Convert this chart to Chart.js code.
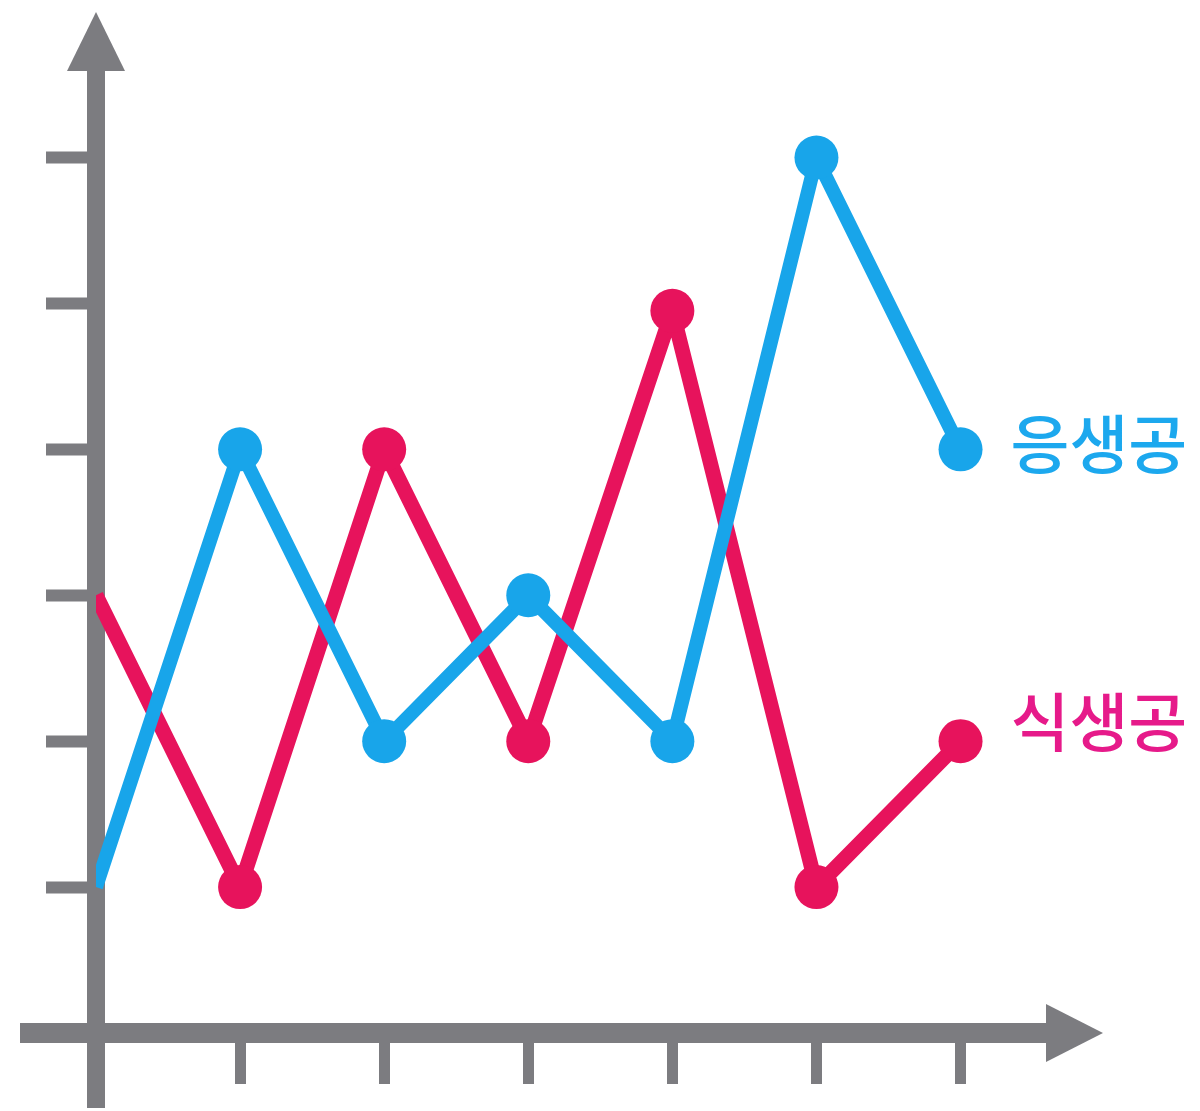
<!DOCTYPE html>
<html>
<head>
<meta charset="utf-8">
<script src="https://cdn.jsdelivr.net/npm/chart.js@4"></script>
<style>
  html, body { margin: 0; padding: 0; background: #fff; }
  #wrap { width: 1200px; height: 1111px; }
</style>
</head>
<body>
<div id="wrap"><canvas id="lineChart"></canvas></div>
<script>
// data
const xSteps = [0, 1, 2, 3, 4, 5, 6];
const eungSaeng = [1, 4, 2, 3, 2, 6, 4];     // 응생공 (blue)
const sikSaeng = [3, 1, 4, 2, 4.95, 1, 2];   // 식생공 (pink)
const seriesNames = ['응생공', '식생공'];
const xTickMarks = [1, 2, 3, 4, 5, 6];
const yTickMarks = [1, 2, 3, 4, 5, 6];
const AXIS_END = 6.6;

const AXIS = '#7c7c80';
const BLUE = '#18a5ea';
const PINK = '#e7135c';

function toPoints(values) {
  return values.map((v, i) => ({ x: xSteps[i], y: v }));
}

// axis overhang, arrow heads and series labels
const decorations = {
  id: 'decorations',
  afterDraw(chart) {
    const c = chart.ctx;
    const xs = chart.scales.x, ys = chart.scales.y;
    const ax = xs.getPixelForValue(0);
    const ay = ys.getPixelForValue(0);
    c.save();
    c.fillStyle = AXIS;
    // y axis runs below the x axis, x axis runs left of the y axis
    c.fillRect(ax - 9, ay, 18, 75);
    c.fillRect(20, ay - 10, ax - 20, 20);
    // arrow heads sit on the end of each axis line
    const top = ys.getPixelForValue(AXIS_END);
    c.beginPath();
    c.moveTo(ax, top - 58);
    c.lineTo(ax - 29, top + 1);
    c.lineTo(ax + 29, top + 1);
    c.closePath();
    c.fill();
    const right = xs.getPixelForValue(AXIS_END);
    c.beginPath();
    c.moveTo(right + 56, ay);
    c.lineTo(right - 1, ay - 29);
    c.lineTo(right - 1, ay + 29);
    c.closePath();
    c.fill();
    // series labels next to the last point
    c.font = '500 64px "Noto Sans CJK KR"';
    c.textBaseline = 'middle';
    const colors = ['#1ca8ee', '#e61a8a'];
    const lift = [6, 19];
    chart.data.datasets.forEach((ds, i) => {
      const pts = chart.getDatasetMeta(i).data;
      const last = pts[pts.length - 1];
      c.fillStyle = colors[i];
      c.fillText(seriesNames[i], last.x + 50, last.y - lift[i]);
    });
    c.restore();
  }
};

const pointSizes = xSteps.map(x => (x === 0 ? 0 : 22));

const ctx = document.getElementById('lineChart').getContext('2d');
new Chart(ctx, {
  type: 'line',
  data: {
    datasets: [{
      label: seriesNames[0],
      data: toPoints(eungSaeng),
      borderColor: BLUE,
      backgroundColor: BLUE,
      borderWidth: 14,
      borderJoinStyle: 'round',
      pointRadius: pointSizes,
      pointBorderWidth: 0,
      tension: 0
    }, {
      label: seriesNames[1],
      data: toPoints(sikSaeng),
      borderColor: PINK,
      backgroundColor: PINK,
      borderWidth: 15,
      borderJoinStyle: 'round',
      pointRadius: pointSizes,
      pointBorderWidth: 0,
      tension: 0
    }]
  },
  options: {
    responsive: true,
    maintainAspectRatio: false,
    animation: false,
    layout: { padding: { left: 46, right: 153, top: 70, bottom: 27 } },
    plugins: {
      legend: { display: false },
      tooltip: { enabled: false }
    },
    scales: {
      x: {
        type: 'linear',
        min: 0,
        max: AXIS_END,
        z: 1,
        afterBuildTicks: s => { s.ticks = [0].concat(xTickMarks).map(v => ({ value: v })); },
        ticks: { display: false },
        border: { color: AXIS, width: 20 },
        grid: {
          drawOnChartArea: false,
          tickLength: 51,
          tickWidth: 11,
          tickColor: c => (xTickMarks.includes(c.tick.value) ? AXIS : 'rgba(0,0,0,0)')
        }
      },
      y: {
        min: 0,
        max: AXIS_END,
        z: 1,
        afterBuildTicks: s => { s.ticks = [0].concat(yTickMarks).map(v => ({ value: v })); },
        ticks: { display: false },
        border: { color: AXIS, width: 18 },
        grid: {
          drawOnChartArea: false,
          tickLength: 50,
          tickWidth: 12,
          tickColor: c => (yTickMarks.includes(c.tick.value) ? AXIS : 'rgba(0,0,0,0)')
        }
      }
    }
  },
  plugins: [decorations]
});
</script>
</body>
</html>
